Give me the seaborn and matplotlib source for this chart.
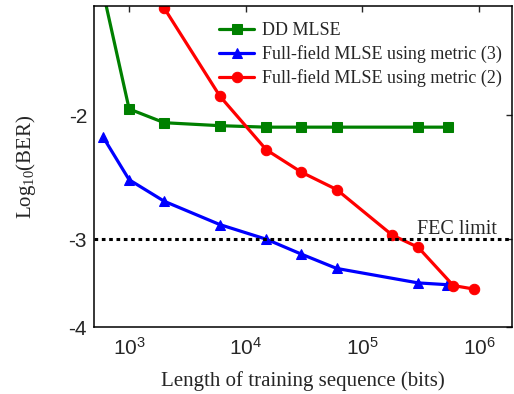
import numpy as np
import pandas as pd
import matplotlib
matplotlib.use("Agg")
import matplotlib.pyplot as plt
import matplotlib.transforms as mtransforms
from matplotlib.ticker import FixedLocator, FixedFormatter, NullLocator
import seaborn as sns

# ---- data (log10 BER vs training length in bits) ----
dd_len = [600, 1000, 2000, 6000, 15000, 30000, 60000, 300000, 540000]
dd_logber = [-1.34, -1.96, -2.05, -2.07, -2.08, -2.08, -2.08, -2.08, -2.08]

m3_len = [600, 1000, 2000, 6000, 15000, 30000, 60000, 300000, 530000]
m3_logber = [-2.15, -2.47, -2.65, -2.86, -3.00, -3.15, -3.30, -3.46, -3.48]

m2_len = [2000, 6000, 15000, 30000, 60000, 180000, 300000, 600000, 900000]
m2_logber = [-1.41, -1.88, -2.24, -2.41, -2.55, -2.96, -3.08, -3.49, -3.53]

labels = ["DD MLSE", "Full-field MLSE using metric (3)", "Full-field MLSE using metric (2)"]
fec_limit = -3
ytick_vals = [-2, -3, -4]
xtick_vals = [1e3, 1e4, 1e5, 1e6]
xtick_labels = [r"$\mathregular{10^{3}}$", r"$\mathregular{10^{4}}$",
                r"$\mathregular{10^{5}}$", r"$\mathregular{10^{6}}$"]

sns.set_style("white")
plt.rcParams["font.family"] = ["Liberation Serif", "DejaVu Serif"]
plt.rcParams["mathtext.fontset"] = "custom"
plt.rcParams["mathtext.rm"] = "Liberation Serif"

fig = plt.figure(figsize=(5.14, 3.94), dpi=100)
ax = fig.add_axes([0.1829, 0.1693, 0.8126, 0.8155])

series = [
    (dd_len, dd_logber, "#008000", "s", 6.5),
    (m3_len, m3_logber, "#0000ff", "^", 7.5),
    (m2_len, m2_logber, "#ff0000", "o", 7.5),
]
for (xs, ys, col, mk, ms), lab in zip(series, labels):
    df = pd.DataFrame({"len": xs, "neglog": [-v for v in ys]})
    sns.lineplot(data=df, x="len", y="neglog", ax=ax, color=col, marker=mk,
                 markersize=ms, markeredgecolor=col, linewidth=2.3, label=lab,
                 sort=False, estimator=None)

ax.axhline(-fec_limit, color="black", linestyle=(0, (1.2, 1.2)), linewidth=2.2)

ax.set_xscale("log")
ax.set_yscale("log")
ax.set_xlim(500, 1.9e6)
ax.set_ylim(4, 1.4)

ax.xaxis.set_major_locator(FixedLocator(xtick_vals))
ax.xaxis.set_major_formatter(FixedFormatter(xtick_labels))
ax.xaxis.set_minor_locator(NullLocator())
ax.yaxis.set_major_locator(FixedLocator([-v for v in ytick_vals]))
ax.yaxis.set_major_formatter(FixedFormatter([str(v) for v in ytick_vals]))
ax.yaxis.set_minor_locator(NullLocator())

ax.tick_params(axis="both", which="major", direction="in", length=4, width=1,
               top=True, right=True, labelsize=15, pad=5)
for lbl in ax.get_xticklabels() + ax.get_yticklabels():
    lbl.set_fontfamily(["Liberation Sans", "DejaVu Sans"])
ax.tick_params(axis="x", pad=7)

for sp in ax.spines.values():
    sp.set_linewidth(1.1)
    sp.set_color("black")

ax.set_xlabel("Length of training sequence (bits)", fontsize=15, labelpad=9)
ax.set_ylabel(r"$\mathregular{Log_{10}(BER)}$", fontsize=15, labelpad=22)

trans = mtransforms.blended_transform_factory(ax.transAxes, ax.transData)
ax.annotate("FEC limit", xy=(0.965, -fec_limit), xycoords=trans,
            xytext=(0, 4), textcoords="offset points", ha="right",
            va="baseline", fontsize=14.5)

leg = ax.legend(loc="upper left", bbox_to_anchor=(0.27, 0.99), frameon=False,
                fontsize=13, handlelength=1.94, labelspacing=0.34,
                handletextpad=0.44, borderpad=0.2)

fig.savefig("out.png", dpi=100)
